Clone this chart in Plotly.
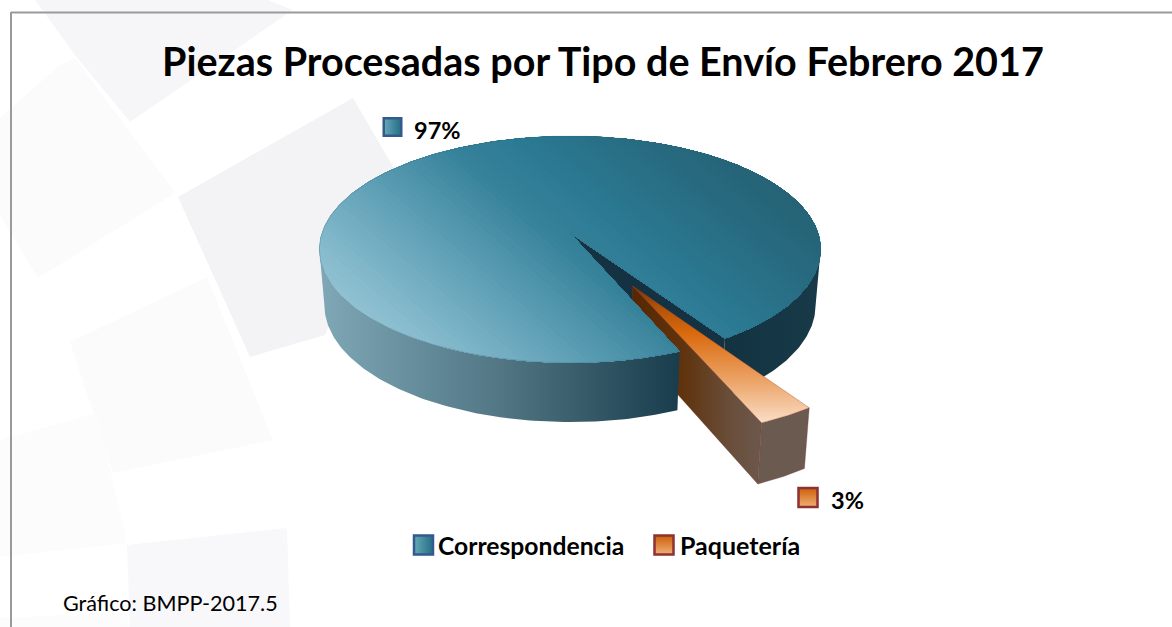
import numpy as np
import plotly.graph_objects as go

# ---- data ----
categories = ["Correspondencia", "Paquetería"]
values = [97, 3]
pct_labels = ["97%", "3%"]
title_text = "Piezas Procesadas por Tipo de Envío Febrero 2017"
footer_text = "Gráfico: BMPP-2017.5"

# ---- projection of the tilted pie ----
CX, CY, A, B, K = 570.0, 233.0, 248.0, 111.0, 0.145
SHRINK = 0.98
MID_ANGLE = 27.9      # degrees from the front, toward the right
EXPLODE = 0.505
SILHOUETTE = 81.7     # angle at which the disc is at its widest on screen

span = values[1] / sum(values) * 360.0
lo, hi = MID_ANGLE - span / 2, MID_ANGLE + span / 2


def proj(r, deg, off=0.0):
    t = np.radians(np.asarray(deg, dtype=float))
    m = np.radians(MID_ANGLE)
    u = off * np.sin(m) + r * np.sin(t)
    v = off * np.cos(m) + r * np.cos(t)
    p = 1.0 / (1.0 - K * v)
    return CX + A * u * p, CY + B * v * p, p


def drop(x, y, p):
    return CX + (x - CX) * SHRINK, y + 30.0 + 25.0 * p


def rgb(c):
    return "rgb(%d,%d,%d)" % tuple(int(round(a)) for a in c)


def ramp(stops, t):
    ts = [s[0] for s in stops]
    return [np.interp(t, ts, [s[1][i] for s in stops]) for i in range(3)]


fig = go.Figure()


def poly(x, y, color=None, grad=None, line=None, lw=0.0):
    kw = {}
    if grad is not None:
        kw["fillgradient"] = grad
    else:
        kw["fillcolor"] = color
    fig.add_trace(go.Scatter(
        x=list(x), y=list(y), mode="lines", fill="toself",
        line=dict(color=line or "rgba(0,0,0,0)", width=lw),
        hoverinfo="skip", showlegend=False, **kw))


def band(a, b, stops, orient="horizontal"):
    s = stops[0][0], stops[-1][0]
    return dict(type=orient, start=a, stop=b,
                colorscale=[[(q[0] - s[0]) / (s[1] - s[0]), rgb(q[1])] for q in stops])


# ---- faint background panels ----
panels = [
    ([35, 268, 293, 130, 75], [0, 0, 10, 122, 55], "#f6f6f8"),
    ([0, 60, 75, 175, 38, 0], [118, 65, 58, 193, 278, 215], "#fbfbfb"),
    ([70, 207, 273, 113], [342, 277, 440, 473], "#fbfbfb"),
    ([178, 353, 395, 325, 250], [197, 98, 170, 335, 357], "#f3f3f5"),
    ([0, 97, 127, 0], [440, 413, 543, 557], "#fcfcfd"),
    ([127, 287, 290, 130], [545, 528, 627, 627], "#f8f8fa"),
    ([0, 125, 130, 0], [618, 612, 627, 627], "#fcfcfc"),
]
for px, py, pc in panels:
    poly(px + px[:1], py + py[:1], color=pc)

# ---- main pie: far walls ----
right_arc = np.linspace(hi, SILHOUETTE, 60)
x, y, p = proj(1.0, right_arc)
xb, yb = drop(x, y, p)
poly(np.r_[x, xb[::-1], x[0]], np.r_[y, yb[::-1], y[0]],
     grad=band(720, 820, [(0, (18, 50, 64)), (1, (24, 58, 72))]))

ax, ay, ap = proj(0.0, 0.0)
hx, hy, hp = proj(1.0, hi)
axb, ayb = drop(ax, ay, ap)
hxb, hyb = drop(hx, hy, hp)
poly([ax, hx, hxb, axb, ax], [ay, hy, hyb, ayb, ay], color="rgb(20,50,65)")

# ---- exploded slice: its side runs behind the near part of the pie ----
wx, wy, wp = proj(0.0, 0.0, EXPLODE)
wbx, wby = drop(wx, wy, wp)
lx, ly, lp = proj(1.0, lo, EXPLODE)
lbx, lby = drop(lx, ly, lp)
poly([wx, lx, lbx, wbx, wx], [wy, ly, lby, wby, wy],
     grad=band(wx, lx, [(0, (88, 38, 2)), (0.4, (96, 52, 14)), (0.75, (105, 78, 58)),
                        (1, (108, 88, 76))]), line="rgba(130,55,50,0.55)", lw=0.6)

# ---- main pie: near wall ----
left_arc = np.linspace(lo, -SILHOUETTE, 120)
x, y, p = proj(1.0, left_arc)
xb, yb = drop(x, y, p)
poly(np.r_[x, xb[::-1], x[0]], np.r_[y, yb[::-1], y[0]],
     grad=band(318, 682, [(0, (128, 168, 182)), (0.25, (103, 143, 158)),
                          (0.5, (82, 118, 132)), (0.78, (50, 85, 100)), (1, (24, 60, 75))]))

# ---- main pie top, lit diagonally ----
arc = np.linspace(hi, lo + 360, 300)
x, y, p = proj(1.0, arc)
top_x = np.r_[ax, x, ax]
top_y = np.r_[ay, y, ay]
GX, GY = 0.65, -0.76
top_stops = [(-20, (150, 198, 212)), (20, (135, 187, 205)), (100, (95, 160, 182)),
             (180, (55, 130, 155)), (230, (43, 122, 147)), (350, (38, 100, 120)),
             (470, (38, 95, 115))]


def clip(xs, ys, t0):
    out_x, out_y = [], []
    d = GX * xs + GY * ys - t0
    n = len(xs)
    for i in range(n):
        j = (i + 1) % n
        if d[i] >= 0:
            out_x.append(xs[i]); out_y.append(ys[i])
        if d[i] * d[j] < 0:
            f = d[i] / (d[i] - d[j])
            out_x.append(xs[i] + f * (xs[j] - xs[i]))
            out_y.append(ys[i] + f * (ys[j] - ys[i]))
    return out_x, out_y


all_t = GX * top_x + GY * top_y
steps = np.linspace(all_t.min() - 1, all_t.max(), 70)
for t0 in steps:
    cx_, cy_ = clip(top_x[:-1], top_y[:-1], t0)
    if len(cx_) > 2:
        poly(cx_ + cx_[:1], cy_ + cy_[:1], color=rgb(ramp(top_stops, t0 + 3)))
fig.add_trace(go.Scatter(x=top_x, y=top_y, mode="lines", hoverinfo="skip", showlegend=False,
                         line=dict(color="rgba(45,100,120,0.45)", width=0.6)))

# ---- exploded slice: front and top ----
warc = np.linspace(lo, hi, 12)
x, y, p = proj(1.0, warc, EXPLODE)
xb, yb = drop(x, y, p)
poly(np.r_[x, xb[::-1], x[0]], np.r_[y, yb[::-1], y[0]], color="rgb(106,90,80)",
     line="rgba(130,55,50,0.55)", lw=0.6)
poly(np.r_[wx, x, wx], np.r_[wy, y, wy],
     grad=band(wy, y.max(), [(0, (120, 50, 3)), (0.15, (175, 82, 8)), (0.35, (218, 106, 15)),
                             (0.7, (236, 165, 105)), (1, (250, 222, 198))], "vertical"),
     line="rgba(150,70,50,0.6)", lw=0.6)

# ---- legend and data-label swatches ----
swatches = [
    (392.5, 127, 17.5, "rgb(100,170,185)", "rgb(38,108,132)", "rgb(50,90,140)", "horizontal"),
    (808, 497.5, 19, "rgb(205,95,8)", "rgb(240,175,120)", "rgb(140,50,50)", "vertical"),
    (423.5, 545, 19, "rgb(100,170,185)", "rgb(38,108,132)", "rgb(50,90,140)", "horizontal"),
    (664, 545, 19, "rgb(205,95,8)", "rgb(240,175,120)", "rgb(140,50,50)", "vertical"),
]
for sx, sy, sz, c0, c1, bc, gt in swatches:
    fig.add_trace(go.Scatter(
        x=[sx], y=[sy], mode="markers", hoverinfo="skip", showlegend=False,
        marker=dict(symbol="square", size=sz, color=c0,
                    gradient=dict(type=gt, color=c1),
                    line=dict(color=bc, width=2.5))))

FONT = "Lato, Carlito, Calibri, sans-serif"


def label(x, y, text, size, bold=True, anchor="left"):
    fig.add_annotation(x=x, y=y, xref="x", yref="y", text="<b>%s</b>" % text if bold else text,
                       showarrow=False, xanchor=anchor, yanchor="middle", xshift=0,
                       font=dict(family=FONT, size=size, color="#000000"), borderpad=0, borderwidth=0)


label(602.5, 60, title_text, 39.5, anchor="center")
label(414, 130, pct_labels[0], 23.5)
label(831, 500, pct_labels[1], 23.5)
label(438, 545, categories[0], 24.7)
label(680, 545, categories[1], 25)
label(63, 603, footer_text, 21.6, bold=False)

# ---- frame lines ----
frame = dict(color="#9a9a9a", width=2)
fig.add_shape(type="line", x0=11, x1=1172, y0=12.5, y1=12.5, line=frame, xref="x", yref="y")
fig.add_shape(type="line", x0=11, x1=11, y0=12, y1=627, line=frame, xref="x", yref="y")

fig.update_layout(
    width=1172, height=627, autosize=False,
    margin=dict(l=0, r=0, t=0, b=0),
    paper_bgcolor="white", plot_bgcolor="white", showlegend=False,
    xaxis=dict(range=[0, 1172], visible=False, fixedrange=True),
    yaxis=dict(range=[627, 0], visible=False, fixedrange=True),
)

fig.write_html("out.html", config=dict(displayModeBar=False),
               post_script="document.body.style.margin='0';document.body.style.overflow='hidden';")
